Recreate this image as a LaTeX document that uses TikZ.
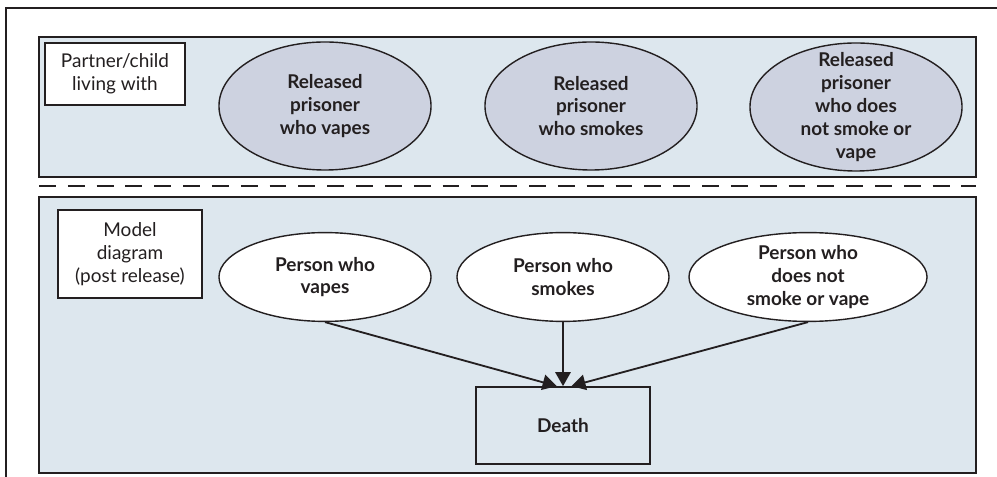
\documentclass[tikz,border=0pt]{standalone}
\usepackage{fontspec}
\setmainfont{Lato}
\usetikzlibrary{shapes.geometric,arrows.meta}
\definecolor{panelblue}{HTML}{DDE7EE}
\definecolor{ovalgrey}{HTML}{CDD2E0}
\definecolor{inkline}{HTML}{231F20}

\begin{document}
\begin{tikzpicture}[x=0.025cm, y=-0.025cm,
  txt/.style={font=\fontsize{13.5}{16.3}\selectfont, text=inkline, align=center},
  panel/.style={draw=inkline, line width=1.1pt, fill=panelblue},
  tagbox/.style={txt, draw=inkline, line width=1.1pt, fill=white, inner sep=0pt},
  oval/.style={ellipse, draw=inkline, line width=1pt, inner sep=0pt},
  prisoner/.style={oval, fill=ovalgrey, minimum width=5.3cm, minimum height=3.2cm},
  person/.style={oval, fill=white, minimum width=5.3cm, minimum height=2.22cm},
  boldtxt/.style={txt, font=\fontsize{13.5}{16.3}\selectfont\bfseries},
  link/.style={inkline, line width=1.3pt, -{Triangle[length=10pt,width=11pt]}}]
  \useasboundingbox (0,0) rectangle (997,477);
  \draw[inkline, line width=1.3pt] (6,477) -- (6,8) -- (997,8);

  \draw[panel] (39,37) rectangle (976,177);
  \draw[inkline, line width=2pt, dash pattern=on 12pt off 8.5pt] (39,186) -- (976,186);
  \draw[panel] (39,197) rectangle (976,473);

  \node[tagbox, minimum width=3.5cm, minimum height=1.55cm] (living) at (115,74)
    {Partner/child\\living with};
  \node[tagbox, minimum width=3.6cm, minimum height=2.2cm] (model) at (130,254)
    {Model\\diagram\\(post release)};

  \node[prisoner, label={[boldtxt]center:Released\\prisoner\\who vapes}] (rv) at (325,106) {};
  \node[prisoner, label={[boldtxt]center:Released\\prisoner\\who smokes}] (rs) at (591,106) {};
  \node[prisoner, label={[boldtxt]center:Released\\prisoner\\who does\\not smoke or\\vape}] (rn) at (856,107) {};

  \node[person, label={[boldtxt]center:Person who\\vapes}] (pv) at (325,277) {};
  \node[person, label={[boldtxt]center:Person who\\smokes}] (ps) at (563,277) {};
  \node[person, minimum width=5.95cm, label={[boldtxt]center:Person who\\does not\\smoke or vape}] (pn) at (808,277) {};

  \node[boldtxt, draw=inkline, line width=1.1pt, minimum width=4.35cm, minimum height=1.93cm] (death) at (563,425.5) {Death};

  \draw[link] (pv.south) -- ([xshift=-4.5pt]death.north);
  \draw[link] (ps.south) -- (death.north);
  \draw[link] (pn.south) -- ([xshift=6pt]death.north);
\end{tikzpicture}
\end{document}
